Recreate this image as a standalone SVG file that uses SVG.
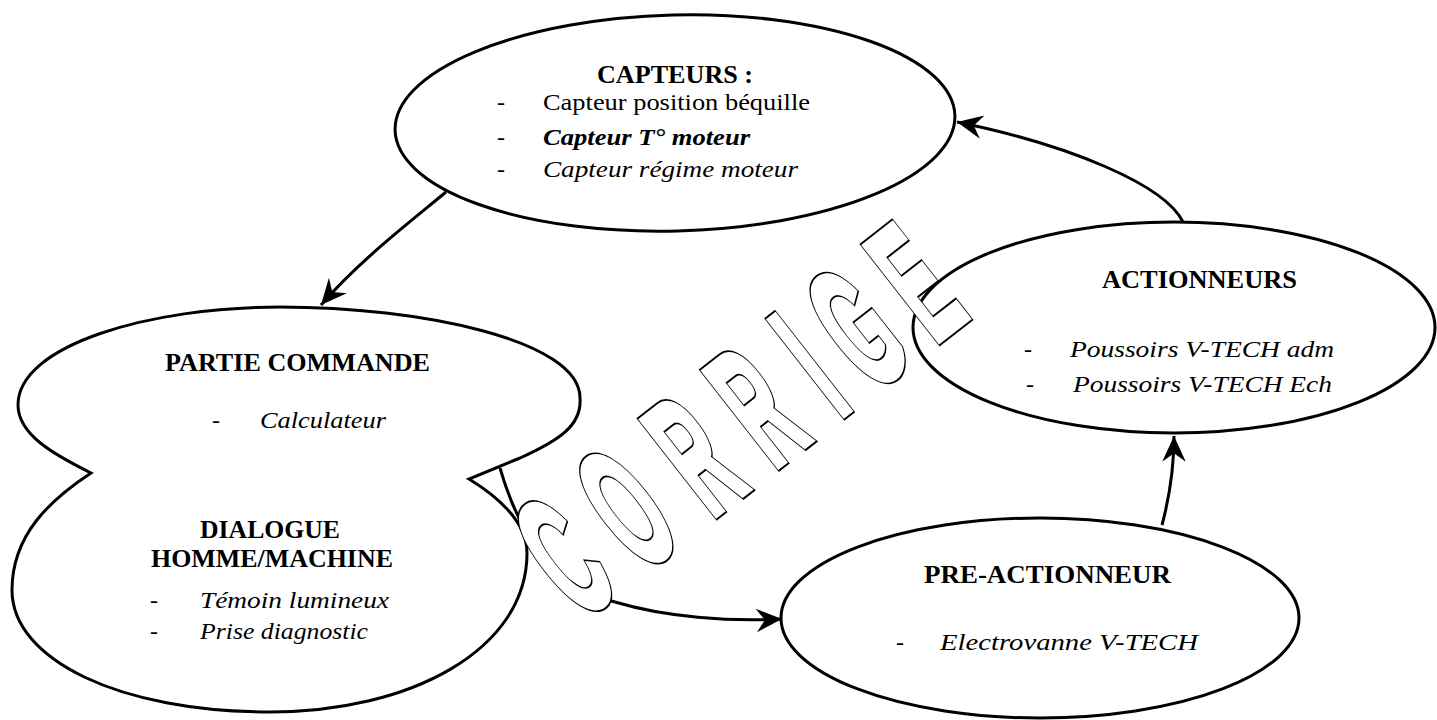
<svg xmlns="http://www.w3.org/2000/svg" width="1437" height="720" viewBox="0 0 1437 720">
<style>
.shape{fill:#fff;stroke:#000;stroke-width:3}
.conn{fill:none;stroke:#000;stroke-width:3}
text{font-family:"Liberation Serif",serif;font-size:24px;fill:#000}
.h{font-weight:bold;font-size:25px}
.i{font-style:italic}
.bi{font-style:italic;font-weight:bold}
.wm{font-family:"Liberation Sans",sans-serif;font-weight:bold;font-size:176px}
.wm-back{fill:#000;stroke:#000;stroke-width:7}
.wm-front{fill:#fff;stroke:#fff;stroke-width:4}
</style>
<defs>
<marker id="arr" markerUnits="userSpaceOnUse" markerWidth="30" markerHeight="30" viewBox="-26 -13 28 26" refX="0" refY="0" orient="auto">
<path d="M0,0 L-24,-11 L-16,0 L-24,11 Z" fill="#000"/>
</marker>
</defs>
<g id="capteurs">
<ellipse class="shape" cx="675" cy="123" rx="280" ry="108" transform="rotate(-1.5 675 123)"/>
<text class="h" x="597" y="83" textLength="156" lengthAdjust="spacingAndGlyphs">CAPTEURS :</text>
<text x="497" y="110">-</text><text x="543" y="110" textLength="267" lengthAdjust="spacingAndGlyphs">Capteur position béquille</text>
<text x="497" y="145">-</text><text class="bi" x="543" y="145" textLength="207" lengthAdjust="spacingAndGlyphs">Capteur T° moteur</text>
<text x="497" y="177">-</text><text class="i" x="543" y="177" textLength="255" lengthAdjust="spacingAndGlyphs">Capteur régime moteur</text>
</g>
<g id="partie-commande">
<path class="shape" d="M91,473 C55,455 18,435 18,405 C18,345 150,307 280,307 C420,307 580,340 580,398 C582,425 560,440 520,458 L469,479 C495,495 527,520 527,553 C527,650 410,712 270,712 C120,712 12,660 12,590 C12,535 50,500 91,473 Z"/>
<text class="h" x="165" y="371" textLength="265" lengthAdjust="spacingAndGlyphs">PARTIE COMMANDE</text>
<text x="212" y="428">-</text><text class="i" x="260" y="428" textLength="126" lengthAdjust="spacingAndGlyphs">Calculateur</text>
<text class="h" x="200" y="538" textLength="140" lengthAdjust="spacingAndGlyphs">DIALOGUE</text>
<text class="h" x="151" y="567" textLength="242" lengthAdjust="spacingAndGlyphs">HOMME/MACHINE</text>
<text x="150" y="608">-</text><text class="i" x="200" y="608" textLength="189" lengthAdjust="spacingAndGlyphs">Témoin lumineux</text>
<text x="150" y="639">-</text><text class="i" x="200" y="639" textLength="168" lengthAdjust="spacingAndGlyphs">Prise diagnostic</text>
</g>
<g id="actionneurs">
<ellipse class="shape" cx="1174" cy="327.5" rx="261" ry="105.5"/>
<text class="h" x="1102" y="288" textLength="195" lengthAdjust="spacingAndGlyphs">ACTIONNEURS</text>
<text x="1024" y="357">-</text><text class="i" x="1070" y="357" textLength="264" lengthAdjust="spacingAndGlyphs">Poussoirs V-TECH adm</text>
<text x="1026" y="392">-</text><text class="i" x="1073" y="392" textLength="259" lengthAdjust="spacingAndGlyphs">Poussoirs V-TECH Ech</text>
</g>
<g id="pre-actionneur">
<ellipse class="shape" cx="1040" cy="618" rx="259" ry="100"/>
<text class="h" x="924" y="583" textLength="247" lengthAdjust="spacingAndGlyphs">PRE-ACTIONNEUR</text>
<text x="896" y="650">-</text><text class="i" x="940" y="650" textLength="258" lengthAdjust="spacingAndGlyphs">Electrovanne V-TECH</text>
</g>
<g id="connectors">
<path class="conn" d="M446,192 C410,222 360,260 321,305" marker-end="url(#arr)"/>
<path class="conn" d="M1183,222 C1165,185 1070,145 957,122" marker-end="url(#arr)"/>
<path class="conn" d="M1162,525 C1170,495 1174,470 1174,436" marker-end="url(#arr)"/>
<path class="conn" d="M500,468 C515,520 545,585 615,602 C665,617 730,622 782,619" marker-end="url(#arr)"/>
</g>
<g id="watermark">
<text class="wm wm-back" transform="translate(582,620) rotate(-38) scale(0.4,1)" x="-2.5 190.8 410.5 608 816.5 922.5 1118" y="0" vector-effect="non-scaling-stroke">CORRIGE</text>
<text class="wm wm-front" transform="translate(582,620) rotate(-38) scale(0.4,1)" x="-2.5 190.8 410.5 608 816.5 922.5 1118" y="0" vector-effect="non-scaling-stroke">CORRIGE</text>
</g>
</svg>
